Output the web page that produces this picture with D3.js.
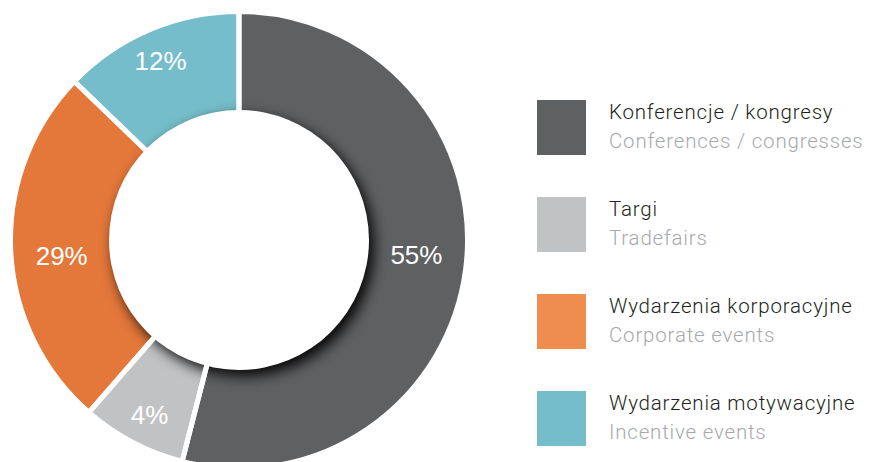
<!DOCTYPE html>
<html>
<head>
<meta charset="utf-8">
<script src="https://cdn.jsdelivr.net/npm/d3@7"></script>
<style>
  html, body { margin: 0; padding: 0; background: #fff; }
  svg { display: block; }
</style>
</head>
<body>
<svg width="877" height="462"></svg>
<script>
// slice data (drawn share of the ring, in %)
var categoriesPL = ["Konferencje / kongresy", "Targi", "Wydarzenia korporacyjne", "Wydarzenia motywacyjne"];
var categoriesEN = ["Conferences / congresses", "Tradefairs", "Corporate events", "Incentive events"];
var shares       = [54, 7.4, 25.8, 12.8];
var shareLabels  = ["55%", "4%", "29%", "12%"];
var ringColors   = ["#5f6062", "#c1c2c4", "#e4773a", "#75bdca"];
var legendColors = ["#5f6062", "#c1c2c4", "#ef8c4f", "#75bdca"];

var cx = 239, cy = 240;
var outerR = 228.5, holeR = 130;

var svg = d3.select("svg");

// shadow filter for the hole
var defs = svg.append("defs");
var f = defs.append("filter").attr("id", "holeShadow")
    .attr("x", "-30%").attr("y", "-30%").attr("width", "160%").attr("height", "160%");
f.append("feGaussianBlur").attr("in", "SourceAlpha").attr("stdDeviation", 7).attr("result", "blur");
f.append("feOffset").attr("in", "blur").attr("dx", 5).attr("dy", 6).attr("result", "off");
f.append("feFlood").attr("flood-color", "#000").attr("flood-opacity", 0.95);
f.append("feComposite").attr("in2", "off").attr("operator", "in");

var pie = d3.pie().sort(null).value(function(d) { return d; });
var arcs = pie(shares);

var arc = d3.arc().innerRadius(115).outerRadius(outerR);

var g = svg.append("g").attr("transform", "translate(" + cx + "," + cy + ")");

// ring fills
g.selectAll("path.slice")
  .data(arcs)
  .enter().append("path")
  .attr("class", "slice")
  .attr("d", arc)
  .attr("fill", function(d, i) { return ringColors[i]; });

// shadow cast by the hole
g.append("circle").attr("r", holeR).attr("fill", "#000").attr("filter", "url(#holeShadow)");

// white separators
g.selectAll("path.sep")
  .data(arcs)
  .enter().append("path")
  .attr("class", "sep")
  .attr("d", arc)
  .attr("fill", "none")
  .attr("stroke", "#fff")
  .attr("stroke-width", 5)
  .attr("stroke-linejoin", "miter");

// hole
g.append("circle").attr("r", holeR).attr("fill", "#fff");

// percentage labels (placed a little counter-clockwise of the slice middle)
g.selectAll("text.pct")
  .data(arcs)
  .enter().append("text")
  .attr("class", "pct")
  .attr("transform", function(d) {
     var small = (d.endAngle - d.startAngle) < 1;
     var a = (d.startAngle + d.endAngle) / 2 - (small ? 0.01 : 0.045);
     var r = small ? 196 : 178;
     return "translate(" + (Math.sin(a) * r) + "," + (-Math.cos(a) * r) + ")";
  })
  .attr("text-anchor", "middle")
  .attr("dy", "0.36em")
  .style("font-family", "'Liberation Sans', Arial, Helvetica, sans-serif")
  .style("font-size", "26px")
  .attr("fill", "#fff")
  .text(function(d, i) { return shareLabels[i]; });

// legend
var legendY = d3.scaleLinear().domain([0, 1]).range([100, 197]);

var items = svg.selectAll("g.legend")
  .data(categoriesPL)
  .enter().append("g")
  .attr("class", "legend")
  .attr("transform", function(d, i) { return "translate(537," + legendY(i) + ")"; });

items.append("rect")
  .attr("width", 49).attr("height", 55)
  .attr("fill", function(d, i) { return legendColors[i]; });

items.append("text")
  .attr("x", 72).attr("y", 19)
  .style("font-family", "Roboto, 'Liberation Sans', Arial, sans-serif")
  .style("font-weight", 300)
  .style("font-size", "20.5px")
  .style("letter-spacing", "0.8px")
  .attr("fill", "#231f20")
  .text(function(d) { return d; });

items.append("text")
  .attr("x", 72).attr("y", 48)
  .style("font-family", "Roboto, 'Liberation Sans', Arial, sans-serif")
  .style("font-weight", 300)
  .style("font-size", "20.5px")
  .style("letter-spacing", "0.8px")
  .attr("fill", "#a7a9ac")
  .text(function(d, i) { return categoriesEN[i]; });
</script>
</body>
</html>
